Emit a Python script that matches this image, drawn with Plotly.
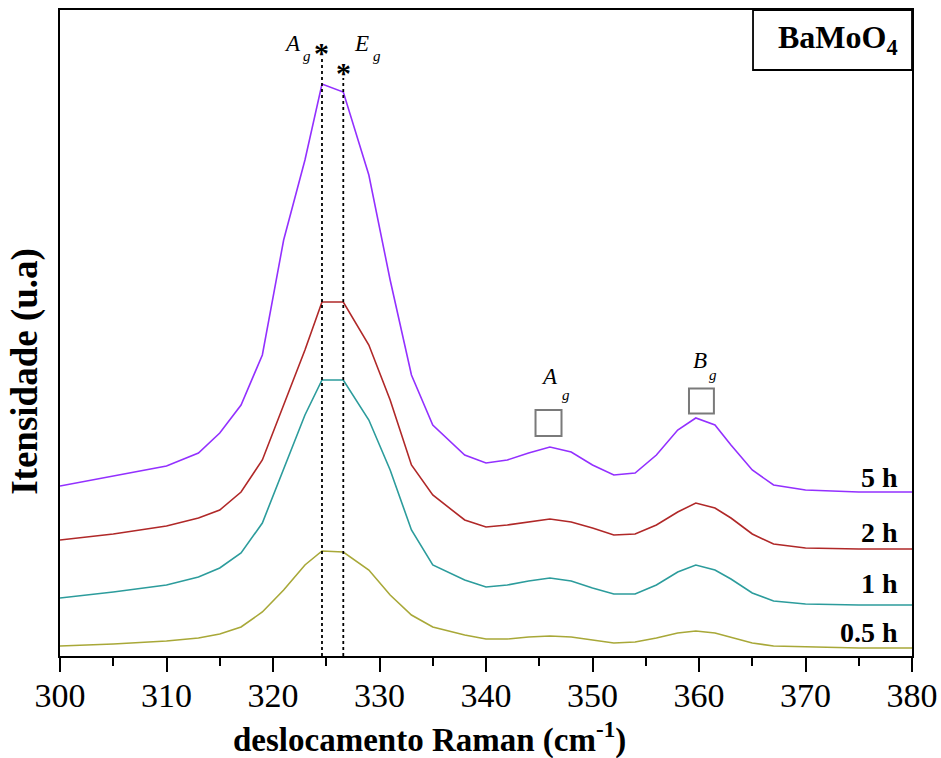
import plotly.graph_objects as go

# Raman shift (cm^-1)
shift = [300, 305, 310, 313, 315, 317, 319, 321, 323, 324.6, 326.6, 329, 331, 333, 335, 338, 340, 342, 344, 346, 348, 350, 352, 354, 356, 358, 359.7, 361.5, 363, 365, 367, 370, 375, 380]

# Intensities (a.u., already vertically offset as in the figure)
i_5h =  [170, 180, 190, 203, 223, 251, 301, 416, 496, 572, 564, 481, 376, 281, 231, 201, 193, 196, 203, 209, 204, 191, 181, 183, 201, 226, 238, 231, 211, 186, 171, 166, 164, 164]
i_2h =  [116, 122, 130, 138, 146, 164, 196, 251, 306, 354, 354, 311, 256, 191, 161, 136, 129, 131, 134, 137, 134, 128, 121, 122, 131, 144, 153, 148, 138, 122, 112, 108, 107, 107]
i_1h =  [58, 64, 71, 79, 88, 103, 133, 188, 241, 276, 276, 236, 186, 126, 91, 76, 69, 71, 75, 78, 75, 68, 62, 62, 71, 84, 91, 86, 77, 63, 55, 52, 51, 51]
i_05h = [10, 12, 15, 18, 22, 29, 44, 66, 91, 105, 104, 86, 61, 41, 29, 21, 17, 17, 19, 20, 19, 16, 13, 14, 18, 23, 25, 23, 19, 13, 10, 9, 8, 8]

series = [("5 h", i_5h, "#9330FF"), ("2 h", i_2h, "#B02828"), ("1 h", i_1h, "#2C9C9C"), ("0.5 h", i_05h, "#A8A838")]

fig = go.Figure()
for name, vals, col in series:
    fig.add_trace(go.Scatter(x=shift, y=vals, mode="lines", name=name,
                             line=dict(color=col, width=1.6), showlegend=False))

serif = "Liberation Serif"

# dotted lines for Ag / Eg modes
fig.add_shape(type="line", x0=324.6, x1=324.6, y0=0, y1=598, xref="x", yref="y",
              line=dict(color="black", width=1.8, dash="dot"))
fig.add_shape(type="line", x0=326.6, x1=326.6, y0=0, y1=578, xref="x", yref="y",
              line=dict(color="black", width=1.8, dash="dot"))

# open squares
for xc, yc, hx, hy in [(345.87, 233, 1.22, 13), (360.23, 255, 1.17, 12.5)]:
    fig.add_shape(type="rect", x0=xc - hx, x1=xc + hx, y0=yc - hy, y1=yc + hy,
                  xref="x", yref="y", line=dict(color="#7a7a7a", width=2))

# label box
fig.add_shape(type="rect", x0=0.8134, x1=1.0, y0=0.9071, y1=1.0, xref="paper", yref="paper",
              line=dict(color="black", width=1.8), fillcolor="white")

def txt(x, y, text, size, xanchor="center"):
    fig.add_annotation(x=x, y=y, text=text, showarrow=False, xref="x", yref="y",
                       xanchor=xanchor, yanchor="middle", font=dict(family=serif, size=size, color="black"))

# mode labels (letter + subscript placed separately)
txt(321.8, 613, "<i>A</i>", 23)
txt(323.2, 600, "<i>g</i>", 15)
txt(328.3, 613, "<i>E</i>", 23)
txt(329.8, 600, "<i>g</i>", 15)
txt(324.6, 604, "<b>*</b>", 30)
txt(326.6, 584, "<b>*</b>", 30)
txt(346.0, 280, "<i>A</i>", 23)
txt(347.5, 261, "<i>g</i>", 15)
txt(360.1, 296, "<i>B</i>", 23)
txt(361.3, 281, "<i>g</i>", 15)

for lbl, yv in [("5 h", 179), ("2 h", 124), ("1 h", 73), ("0.5 h", 24)]:
    txt(378.87, yv, "<b>" + lbl + "</b>", 28, xanchor="right")

fig.add_annotation(x=0.913, y=0.9536, xref="paper", yref="paper", showarrow=False,
                   xanchor="center", yanchor="middle",
                   text="<b>BaMoO<sub>4</sub></b>", font=dict(family=serif, size=32, color="black"))

fig.add_annotation(x=0.434, y=-0.126, xref="paper", yref="paper", showarrow=False,
                   xanchor="center", yanchor="middle",
                   text="<b>deslocamento Raman (cm<sup>-1</sup>)</b>", font=dict(family=serif, size=33, color="black"))

fig.add_annotation(x=-0.041, y=0.44, xref="paper", yref="paper", showarrow=False, textangle=-90,
                   xanchor="center", yanchor="middle",
                   text="<b>Itensidade (u.a)</b>", font=dict(family=serif, size=37, color="black"))

fig.update_layout(
    width=941, height=758,
    margin=dict(l=60, r=29, t=10, b=102),
    plot_bgcolor="white", paper_bgcolor="white",
    xaxis=dict(range=[300, 380], tickmode="array", tickvals=list(range(300, 381, 10)),
               ticks="outside", ticklen=14, tickwidth=1.8, tickcolor="black",
               minor=dict(ticks="outside", ticklen=8, tickwidth=1.8, tickcolor="black", dtick=5),
               showline=True, linecolor="black", linewidth=2, mirror=True, showgrid=False, zeroline=False,
               ticklabelstandoff=-6, ticklabeloverflow="allow", automargin=False,
               tickfont=dict(family=serif, size=34, color="black")),
    yaxis=dict(range=[0, 646], showticklabels=False, ticks="", showline=True, linecolor="black",
               linewidth=2, mirror=True, showgrid=False, zeroline=False, automargin=False),
)

fig.write_html("out.html", config={"displayModeBar": False},
               post_script="document.body.style.margin='0px';")
